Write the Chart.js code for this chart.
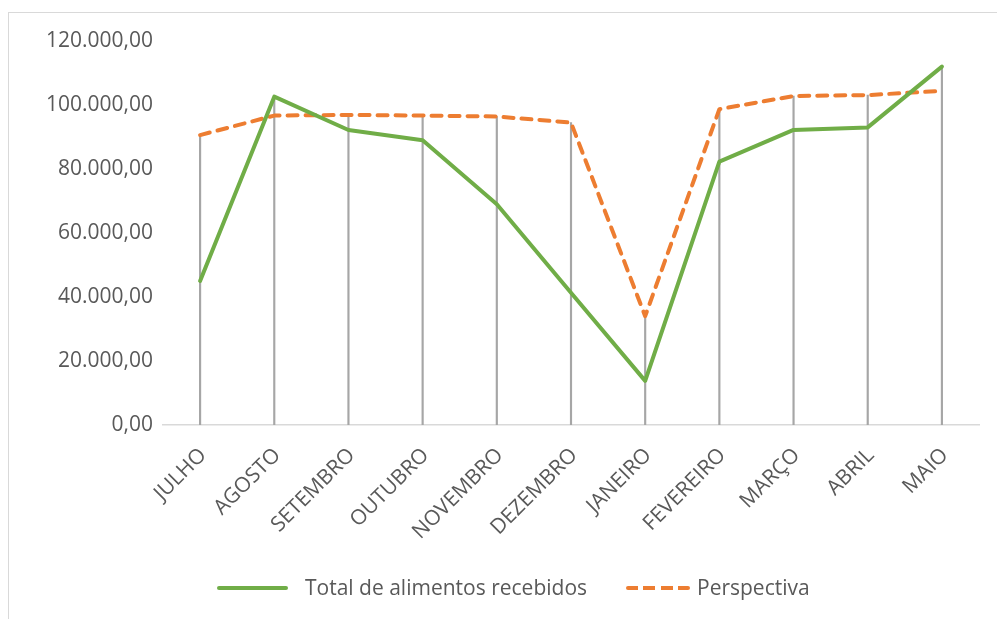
<!DOCTYPE html>
<html>
<head>
<meta charset="utf-8">
<script src="https://cdn.jsdelivr.net/npm/chart.js@4.4.1/dist/chart.umd.min.js"></script>
<style>
  html, body { margin: 0; padding: 0; background: #fff; overflow: hidden; }
  #wrap { position: relative; width: 997px; height: 619px; overflow: hidden; }
  #frame { position: absolute; left: 8px; top: 12px; width: 1010px; height: 700px; border: 1.5px solid #d9d9d9; box-sizing: border-box; }
  canvas { position: absolute; left: 0; top: 0; }
  .lg-text { position: absolute; font-family: "Open Sans", sans-serif; font-size: 21px; line-height: 24px; color: #595959; white-space: nowrap; }
  .lg-line { position: absolute; height: 4px; border-radius: 2px; }
</style>
</head>
<body>
<div id="wrap">
  <div id="frame"></div>
  <canvas id="c" width="997" height="619"></canvas>
  <div class="lg-line" id="lgGreen" style="left:217px; top:586px; width:71px;"></div>
  <div class="lg-text" style="left:305px; top:575px;">Total de alimentos recebidos</div>
  <div class="lg-line" id="lgOrange" style="left:626px; top:586px; width:64px;"></div>
  <div class="lg-text" style="left:697px; top:575px;">Perspectiva</div>
</div>
<script>
const categories = ['JULHO','AGOSTO','SETEMBRO','OUTUBRO','NOVEMBRO','DEZEMBRO','JANEIRO','FEVEREIRO','MARÇO','ABRIL','MAIO'];
const totalRecebidos = [45000, 102600, 92200, 89000, 69000, 41300, 13800, 82300, 92200, 93000, 112000];
const perspectiva = [90600, 96700, 96900, 96700, 96400, 94500, 34000, 98700, 102800, 103100, 104400];
const yTickLabels = ['0,00','20.000,00','40.000,00','60.000,00','80.000,00','100.000,00','120.000,00'];
const seriesNames = ['Total de alimentos recebidos', 'Perspectiva'];

const GREEN = '#70ad47';
const ORANGE = '#ed7d31';
const TEXT = '#595959';
const FONT = { family: '"Open Sans", sans-serif', size: 21 };

document.getElementById('lgGreen').style.background = GREEN;
document.getElementById('lgOrange').style.background =
  'repeating-linear-gradient(to right, ' + ORANGE + ' 0 12px, transparent 12px 17.3px)';

const dropTops = totalRecebidos.map((v, i) => Math.max(v, perspectiva[i]));

new Chart(document.getElementById('c'), {
  data: {
    labels: categories,
    datasets: [
      {
        type: 'line', label: seriesNames[0], data: totalRecebidos,
        borderColor: GREEN, backgroundColor: GREEN, borderWidth: 4,
        pointRadius: 0, tension: 0, borderJoinStyle: 'round', borderCapStyle: 'round', order: 1
      },
      {
        type: 'line', label: seriesNames[1], data: perspectiva,
        borderColor: ORANGE, backgroundColor: ORANGE, borderWidth: 4, borderDash: [10, 8],
        pointRadius: 0, tension: 0, borderJoinStyle: 'round', borderCapStyle: 'round', order: 2
      },
      {
        type: 'bar', label: 'drop', data: dropTops,
        backgroundColor: '#a6a6a6', barThickness: 1.5, order: 3
      }
    ]
  },
  options: {
    responsive: false,
    devicePixelRatio: 1,
    animation: false,
    layout: { padding: { left: 0, right: 18, top: 41, bottom: 52 } },
    plugins: { legend: { display: false }, tooltip: { enabled: false } },
    scales: {
      x: {
        type: 'category', offset: true,
        grid: { display: false, drawTicks: false },
        border: { display: true, color: '#d9d9d9', width: 1.5 },
        ticks: { color: TEXT, font: FONT, minRotation: 45, maxRotation: 45, autoSkip: false, padding: 18, labelOffset: 3 },
        afterFit: s => { s.height = 142; }
      },
      y: {
        min: 0, max: 120000,
        grid: { display: false, drawTicks: false },
        border: { display: false },
        ticks: {
          stepSize: 20000, color: TEXT, font: FONT, padding: 10,
          callback: v => yTickLabels[Math.round(v / 20000)]
        },
        afterFit: s => { s.width = 163; }
      }
    }
  }
});
</script>
</body>
</html>
